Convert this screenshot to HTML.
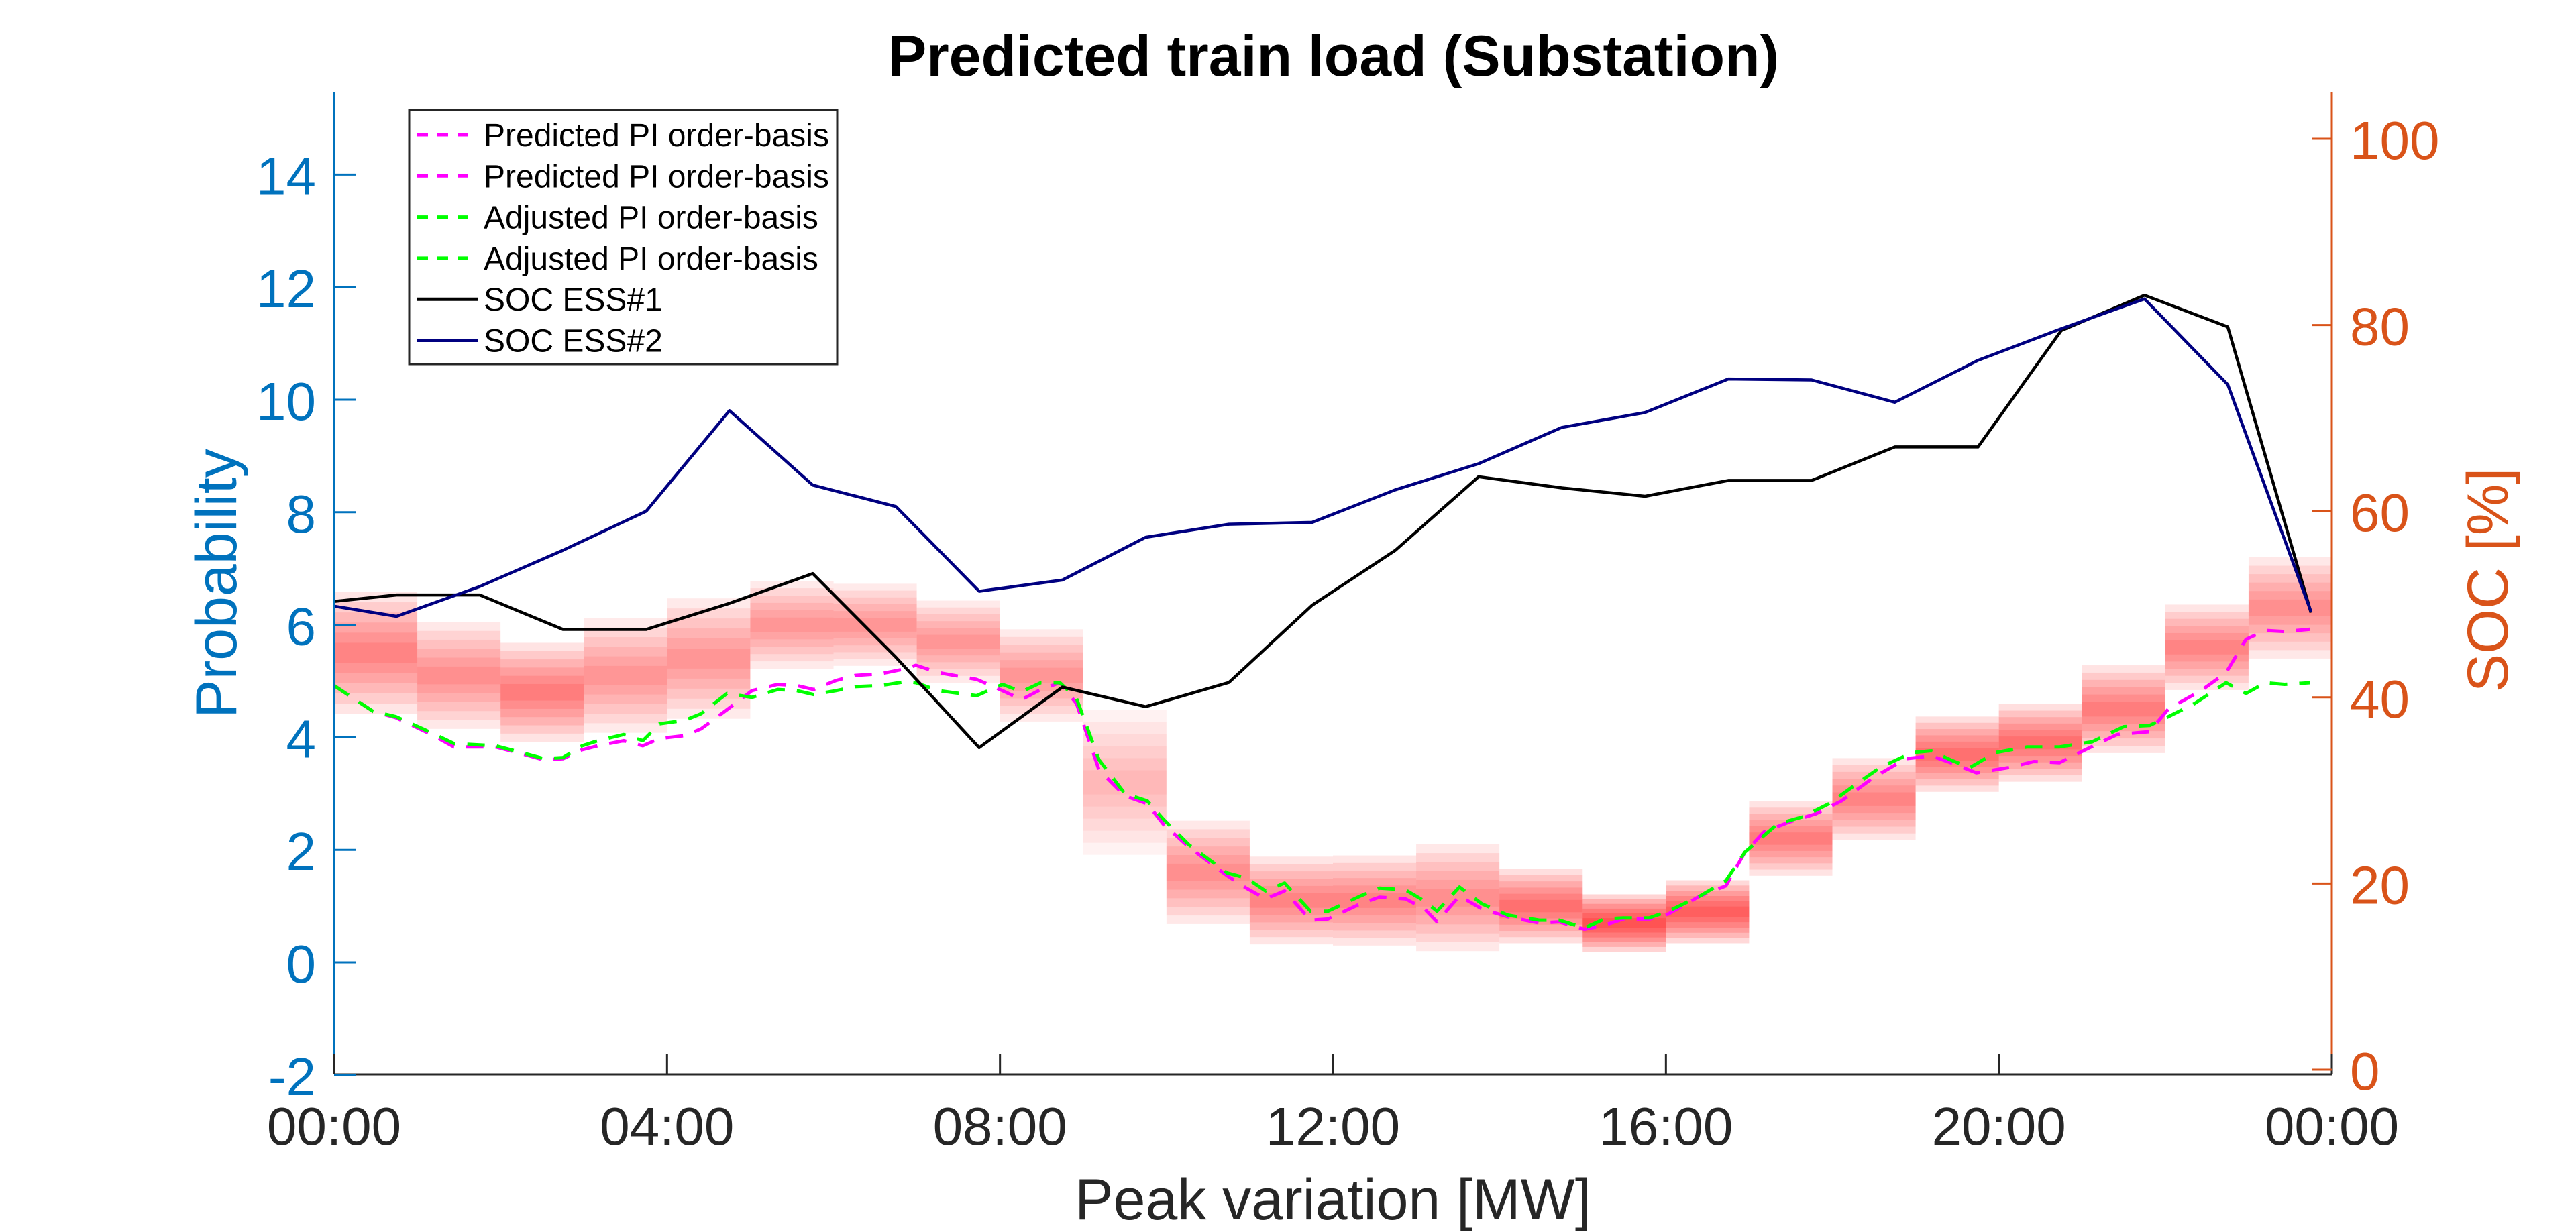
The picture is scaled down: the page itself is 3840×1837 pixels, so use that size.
<!DOCTYPE html>
<html><head><meta charset="utf-8"><style>
html,body{margin:0;padding:0;background:#fff}
svg{display:block}
text{font-family:"Liberation Sans",Arial,sans-serif}
</style></head><body>
<svg id="chart" xmlns="http://www.w3.org/2000/svg" width="3840" height="1837" viewBox="0 0 3840 1837">
<rect x="0" y="0" width="3840" height="1837" fill="#fff"/>
<g id="bands"></g>
<g id="lines"></g>
<g id="axes"></g>
<text x="1988" y="113" font-size="86" font-weight="bold" text-anchor="middle" fill="#000">Predicted train load (Substation)</text>
<text x="1987" y="1818" font-size="86" text-anchor="middle" fill="#262626">Peak variation [MW]</text>
<text transform="translate(352,870) rotate(-90)" font-size="86" text-anchor="middle" fill="#0072BD">Probability</text>
<text transform="translate(3738,865) rotate(-90)" font-size="86" text-anchor="middle" fill="#D95319">SOC [%]</text>
<g id="legend"></g>
</svg>
<script>
// ---- data ----
const xTicks = [0,4,8,12,16,20,24];
const xTickLabels = ["00:00","04:00","08:00","12:00","16:00","20:00","00:00"];
const leftTicks = [-2,0,2,4,6,8,10,12,14];
const rightTicks = [0,20,40,60,80,100];
const socHours = [0,0.75,1.75,2.75,3.75,4.75,5.75,6.75,7.75,8.75,9.75,10.75,11.75,12.75,13.75,14.75,15.75,16.75,17.75,18.75,19.75,20.75,21.75,22.75,23.75];
const socEss1 = [50.3,51.0,51.0,47.3,47.3,50.1,53.3,44.3,34.6,41.1,39.0,41.6,49.9,55.8,63.7,62.5,61.6,63.3,63.3,66.9,66.9,79.4,83.2,79.8,49.1];
const socEss2 = [49.8,48.7,51.9,55.8,60.0,70.8,62.8,60.5,51.4,52.6,57.2,58.6,58.8,62.3,65.1,69.0,70.6,74.2,74.1,71.7,76.2,79.6,82.8,73.6,49.2];
const predHours = [0,0.47,0.74,1.17,1.44,1.94,2.25,2.52,2.75,2.98,3.17,3.48,3.71,3.91,4.21,4.41,4.72,5.02,5.33,5.56,5.76,6.03,6.26,6.57,6.87,6.99,7.26,7.72,8.03,8.26,8.49,8.72,8.92,9.19,9.5,9.77,9.96,10.27,10.73,10.96,11.19,11.42,11.73,11.94,12.33,12.56,12.87,13.1,13.25,13.52,13.79,14.1,14.48,14.72,15.02,15.26,15.49,15.8,16.03,16.41,16.72,16.95,17.18,17.49,17.8,18.11,18.49,18.88,19.19,19.42,19.73,20.11,20.42,20.73,21.04,21.42,21.81,22.04,22.43,22.73,22.97,23.2,23.43,23.74];
const predValues = [4.92,4.46,4.35,4.05,3.83,3.83,3.71,3.6,3.62,3.78,3.85,3.94,3.85,3.98,4.03,4.15,4.49,4.83,4.94,4.92,4.85,5.01,5.1,5.13,5.22,5.28,5.15,5.03,4.83,4.67,4.85,4.97,4.6,3.42,2.96,2.82,2.46,2.05,1.54,1.32,1.13,1.27,0.75,0.77,1.04,1.16,1.13,0.95,0.72,1.18,0.95,0.81,0.7,0.72,0.59,0.66,0.77,0.77,0.86,1.18,1.36,1.96,2.32,2.5,2.64,2.87,3.28,3.62,3.67,3.55,3.37,3.46,3.57,3.55,3.78,4.05,4.1,4.51,4.83,5.15,5.74,5.9,5.88,5.92];
const adjHours = [0,0.47,0.74,1.17,1.44,1.94,2.25,2.52,2.75,2.98,3.17,3.48,3.71,3.91,4.21,4.41,4.72,5.02,5.33,5.56,5.76,6.03,6.26,6.57,6.87,6.99,7.26,7.72,8.03,8.26,8.49,8.72,8.92,9.19,9.5,9.77,9.96,10.27,10.73,10.96,11.19,11.42,11.73,11.94,12.33,12.56,12.87,13.1,13.25,13.52,13.79,14.1,14.48,14.72,15.02,15.26,15.49,15.8,16.03,16.41,16.72,16.95,17.34,17.65,17.96,18.26,18.57,18.96,19.19,19.42,19.65,19.96,20.34,20.73,21.12,21.5,21.81,22.04,22.35,22.73,22.97,23.2,23.43,23.74];
const adjValues = [4.92,4.46,4.37,4.08,3.89,3.85,3.73,3.62,3.64,3.85,3.94,4.05,3.94,4.24,4.3,4.42,4.78,4.71,4.85,4.83,4.76,4.83,4.9,4.92,4.99,4.97,4.83,4.74,4.94,4.81,4.97,4.97,4.69,3.6,3.0,2.87,2.55,2.09,1.59,1.5,1.27,1.41,0.91,0.91,1.18,1.32,1.29,1.09,0.91,1.34,1.04,0.84,0.75,0.75,0.61,0.77,0.79,0.79,0.91,1.18,1.45,1.96,2.46,2.59,2.82,3.14,3.46,3.73,3.76,3.6,3.46,3.73,3.83,3.83,3.92,4.19,4.21,4.37,4.6,4.97,4.78,4.97,4.94,4.97];
const bandCenter = [5.5,5.1,4.8,5.1,5.4,6.0,6.0,5.7,5.1,3.2,1.6,1.1,1.1,1.15,1.0,0.7,0.9,2.2,2.9,3.7,3.9,4.5,5.6,6.3];
const bandSpread = [1.08,0.95,0.88,1.02,1.07,0.78,0.73,0.73,0.82,1.29,0.92,0.78,0.8,0.95,0.66,0.51,0.56,0.66,0.73,0.67,0.69,0.78,0.76,0.9];
const bandPeak = [0.6,0.55,0.65,0.5,0.5,0.5,0.5,0.5,0.5,0.3,0.55,0.6,0.6,0.55,0.75,1.0,0.9,0.65,0.6,0.75,0.75,0.65,0.6,0.55];

// ---- scales ----
const X0=498, X1=3476, YB=1602, YT=137;
const xs = h => X0 + h*(X1-X0)/24;
const yL = v => 1435 - v*83.9;
const yR = v => 1595 - v*13.88;
const NS="http://www.w3.org/2000/svg";
function mk(tag, attrs, parent){const e=document.createElementNS(NS,tag);for(const k in attrs)e.setAttribute(k,attrs[k]);parent.appendChild(e);return e;}

// bands
const bands=document.getElementById('bands');
const nL=6;
bandCenter.forEach((c,i)=>{
  for(let k=nL;k>=1;k--){
    const hw=bandSpread[i]*k/nL;
    const r=mk('rect',{x:xs(i),y:yL(c+hw),width:xs(i+1)-xs(i),height:yL(c-hw)-yL(c+hw),fill:'#ff0000','fill-opacity':(bandPeak[i]/nL).toFixed(3)},bands);
    
    
  }
});

// lines
const lines=document.getElementById('lines');
function poly(xsArr, ysArr, yf, color, w, dash, name){
  const pts=xsArr.map((h,i)=>xs(h).toFixed(1)+','+yf(ysArr[i]).toFixed(1)).join(' ');
  const a={points:pts,fill:'none',stroke:color,'stroke-width':w,'stroke-linejoin':'round'};
  if(dash)a['stroke-dasharray']=dash;
  const p=mk('polyline',a,lines);
  
  
}
poly(predHours,predValues,yL,'#ff00ff',5,'26,18','predicted-pi-line');
poly(adjHours,adjValues,yL,'#00ff00',5,'26,18','adjusted-pi-line');
poly(socHours,socEss1,yR,'#000000',4.5,null,'soc-ess1-line');
poly(socHours,socEss2,yR,'#000080',4.5,null,'soc-ess2-line');

// axes
const axes=document.getElementById('axes');
let e;
e=mk('line',{x1:X0,y1:YB,x2:X1,y2:YB,stroke:'#262626','stroke-width':3},axes);

e=mk('line',{x1:X0,y1:YT,x2:X0,y2:YB,stroke:'#0072BD','stroke-width':3},axes);

e=mk('line',{x1:X1,y1:YT,x2:X1,y2:YB,stroke:'#D95319','stroke-width':3},axes);

xTicks.forEach((h,i)=>{
  e=mk('line',{x1:xs(h),y1:YB,x2:xs(h),y2:YB-30,stroke:'#262626','stroke-width':3},axes);
  
  e=mk('text',{x:xs(h),y:1707,'font-size':80,'text-anchor':'middle',fill:'#262626'},axes);
  e.textContent=xTickLabels[i];
  
});
leftTicks.forEach(v=>{
  e=mk('line',{x1:X0,y1:yL(v),x2:X0+32,y2:yL(v),stroke:'#0072BD','stroke-width':3},axes);
  
  e=mk('text',{x:471,y:yL(v)+30,'font-size':80,'text-anchor':'end',fill:'#0072BD'},axes);
  e.textContent=String(v);
  
});
rightTicks.forEach(v=>{
  e=mk('line',{x1:X1,y1:yR(v),x2:X1-30,y2:yR(v),stroke:'#D95319','stroke-width':3},axes);
  
  e=mk('text',{x:3503,y:yR(v)+30,'font-size':80,'text-anchor':'start',fill:'#D95319'},axes);
  e.textContent=String(v);
  
});

// legend
const lg=document.getElementById('legend');
e=mk('rect',{x:610,y:164,width:638,height:379,fill:'#fff',stroke:'#262626','stroke-width':3},lg);

const legLabels=["Predicted PI order-basis","Predicted PI order-basis","Adjusted PI order-basis","Adjusted PI order-basis","SOC ESS#1","SOC ESS#2"];
const legColors=["#ff00ff","#ff00ff","#00ff00","#00ff00","#000000","#000080"];
const legDash=["16,14","16,14","16,14","16,14",null,null];
legLabels.forEach((t,i)=>{
  const y=201+i*61.3;
  const a={x1:622,y1:y,x2:712,y2:y,stroke:legColors[i],'stroke-width':5};
  if(legDash[i])a['stroke-dasharray']=legDash[i];
  e=mk('line',a,lg);
  
  e=mk('text',{x:721,y:y+17,'font-size':48,fill:'#000'},lg);
  e.textContent=t;
  
});
</script>
</body></html>
